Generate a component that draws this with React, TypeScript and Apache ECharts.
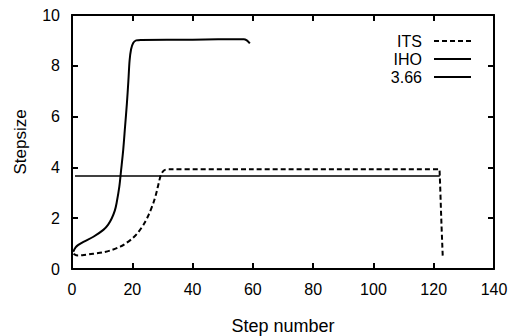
import React, { useEffect, useRef } from "react";
import * as echarts from "echarts";

const xTicks = [0, 20, 40, 60, 80, 100, 120, 140];
const yTicks = [0, 2, 4, 6, 8, 10];

const itsData: [number, number][] = [
  [0.5, 0.6], [2, 0.53], [4, 0.55], [7, 0.6], [10, 0.65], [13, 0.74], [16, 0.88],
  [18, 1.02], [20, 1.2], [22, 1.45], [24, 1.8], [25.5, 2.15], [27, 2.6], [28, 3.0],
  [28.8, 3.4], [29.5, 3.7], [30.5, 3.88], [32, 3.93], [60, 3.93], [100, 3.93],
  [121.8, 3.93], [122, 3.7], [122.5, 2.0], [123, 0.48],
];

const ihoData: [number, number][] = [
  [0.4, 0.68], [1.2, 0.85], [2.1, 0.95], [3.8, 1.07], [7.1, 1.27], [10.4, 1.54],
  [12, 1.75], [13.2, 2.0], [14.2, 2.3], [14.8, 2.6], [15.7, 3.24], [16.3, 3.9],
  [17, 4.7], [17.6, 5.6], [18.2, 6.5], [18.7, 7.4], [19.1, 8.2], [19.6, 8.65],
  [20.3, 8.9], [21.3, 9.0], [23, 9.02], [40, 9.03], [57, 9.05], [58, 9.0], [59, 8.88],
];

const constData: [number, number][] = [[1, 3.66], [122, 3.66]];

const FONT = "'Liberation Sans', Arial, Helvetica, sans-serif";

export default function App() {
  const ref = useRef<HTMLDivElement>(null);
  useEffect(() => {
    if (!ref.current) return;
    const chart = echarts.init(ref.current, null, { renderer: "svg" });
    const axisLine = { show: true, onZero: false, lineStyle: { color: "#000", width: 2 } };
    const tick = { show: true, inside: true, length: 6, lineStyle: { color: "#000", width: 2 } };
    chart.setOption({
      animation: false,
      backgroundColor: "#fff",
      textStyle: { fontFamily: FONT },
      grid: { left: 72, right: 22, top: 15, bottom: 67, outerBoundsMode: "none", containLabel: false },
      legend: {
        orient: "vertical",
        right: 44,
        top: 33,
        padding: 0,
        align: "right",
        itemWidth: 37,
        itemHeight: 14,
        itemGap: 2,
        itemStyle: { opacity: 0, color: "rgba(0,0,0,0)", borderColor: "rgba(0,0,0,0)", borderWidth: 0 },
        textStyle: { fontSize: 16, color: "#000", fontFamily: FONT, padding: [0, 7, 0, 0] },
        data: ["ITS", "IHO", "3.66"],
      },
      xAxis: [
        {
          type: "value", min: 0, max: 140, interval: 20,
          name: "Step number", nameLocation: "middle", nameGap: 48,
          nameTextStyle: { fontSize: 18, color: "#000", fontFamily: FONT },
          axisLine, axisTick: tick, splitLine: { show: false },
          axisLabel: { fontSize: 16, color: "#000", margin: 12, fontFamily: FONT,
            formatter: (v: number) => (xTicks.includes(v) ? String(v) : "") },
        },
        {
          type: "value", min: 0, max: 140, interval: 20, position: "top",
          axisLine, axisTick: tick, splitLine: { show: false }, axisLabel: { show: false },
        },
      ],
      yAxis: [
        {
          type: "value", min: 0, max: 10, interval: 2,
          name: "Stepsize", nameLocation: "middle", nameGap: 43,
          nameTextStyle: { fontSize: 17, color: "#000", fontFamily: FONT },
          axisLine, axisTick: tick, splitLine: { show: false },
          axisLabel: { fontSize: 16, color: "#000", margin: 12, fontFamily: FONT,
            formatter: (v: number) => (yTicks.includes(v) ? String(v) : "") },
        },
        {
          type: "value", min: 0, max: 10, interval: 2, position: "right",
          axisLine, axisTick: tick, splitLine: { show: false }, axisLabel: { show: false },
        },
      ],
      series: [
        {
          name: "ITS", type: "line", data: itsData, symbol: "none", smooth: 0.3,
          lineStyle: { color: "#000", width: 2, type: [5, 3] }, itemStyle: { color: "#000" },
        },
        {
          name: "IHO", type: "line", data: ihoData, symbol: "none", smooth: 0.3,
          lineStyle: { color: "#000", width: 2 }, itemStyle: { color: "#000" },
        },
        {
          name: "3.66", type: "line", data: constData, symbol: "none",
          lineStyle: { color: "#000", width: 1.6 }, itemStyle: { color: "#000" },
        },
      ],
    });
    return () => chart.dispose();
  }, []);
  return <div ref={ref} style={{ width: 516, height: 336, position: "absolute", left: 0, top: 0 }} />;
}
